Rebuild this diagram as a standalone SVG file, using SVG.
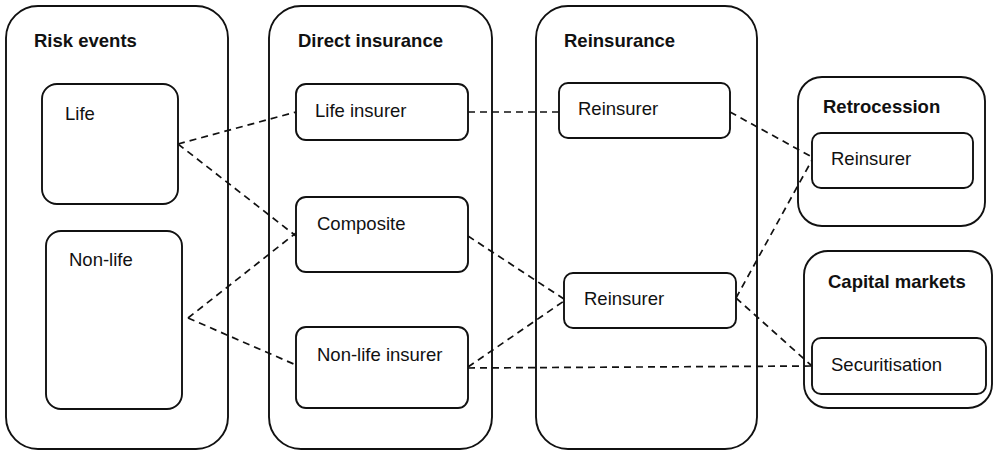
<svg xmlns="http://www.w3.org/2000/svg" width="1000" height="458" viewBox="0 0 1000 458">
<style>
.box{fill:#fff;stroke:#111;stroke-width:1.9}
.t{font-family:"Liberation Sans",Arial,sans-serif;font-size:18.5px;fill:#111}
.b{font-weight:bold;font-size:18.5px}
.c{fill:none;stroke:#111;stroke-width:1.7;stroke-dasharray:7 5}
</style>
<rect width="1000" height="458" fill="#fff"/>
<g id="risk-events">
<rect class="box" x="6" y="6" width="222" height="443" rx="32"/>
<text class="t b" x="34" y="47">Risk events</text>
</g>
<g id="life">
<rect class="box" x="42" y="84" width="136" height="120" rx="15"/>
<text class="t" x="65" y="120">Life</text>
</g>
<g id="non-life">
<rect class="box" x="46" y="231" width="136" height="178" rx="15"/>
<text class="t" x="69" y="266">Non-life</text>
</g>
<g id="direct-insurance">
<rect class="box" x="269" y="6" width="223" height="443" rx="32"/>
<text class="t b" x="298" y="47">Direct insurance</text>
</g>
<g id="life-insurer">
<rect class="box" x="296" y="84" width="172" height="56" rx="10"/>
<text class="t" x="315" y="117">Life insurer</text>
</g>
<g id="composite">
<rect class="box" x="296" y="197" width="172" height="75" rx="10"/>
<text class="t" x="317" y="230">Composite</text>
</g>
<g id="non-life-insurer">
<rect class="box" x="296" y="327" width="172" height="81" rx="10"/>
<text class="t" x="317" y="361">Non-life insurer</text>
</g>
<g id="reinsurance">
<rect class="box" x="536" y="6" width="221" height="443" rx="32"/>
<text class="t b" x="564" y="47">Reinsurance</text>
</g>
<g id="reinsurer-top">
<rect class="box" x="559" y="83" width="171" height="55" rx="9"/>
<text class="t" x="578" y="115">Reinsurer</text>
</g>
<g id="reinsurer-mid">
<rect class="box" x="564" y="273" width="172" height="55" rx="9"/>
<text class="t" x="584" y="305">Reinsurer</text>
</g>
<g id="retrocession">
<rect class="box" x="798" y="77" width="187" height="149" rx="24"/>
<text class="t b" x="823" y="113">Retrocession</text>
</g>
<g id="retro-reinsurer">
<rect class="box" x="812" y="133" width="161" height="55" rx="9"/>
<text class="t" x="831" y="165">Reinsurer</text>
</g>
<g id="capital-markets">
<rect class="box" x="804" y="251" width="188" height="157" rx="24"/>
<text class="t b" x="828" y="288">Capital markets</text>
</g>
<g id="securitisation">
<rect class="box" x="812" y="338" width="174" height="56" rx="9"/>
<text class="t" x="831" y="371">Securitisation</text>
</g>
<g id="connectors">
<path class="c" d="M178,144 L296,112"/>
<path class="c" d="M178,144 L296,236"/>
<path class="c" d="M188,318 L296,233"/>
<path class="c" d="M188,318 L296,365"/>
<path class="c" d="M468,112 L559,112"/>
<path class="c" d="M468,236 L564,299"/>
<path class="c" d="M468,367 L564,301"/>
<path class="c" d="M468,368 L812,366"/>
<path class="c" d="M730,112 L812,157"/>
<path class="c" d="M736,298 L812,160"/>
<path class="c" d="M736,298 L812,366"/>
</g>
</svg>
